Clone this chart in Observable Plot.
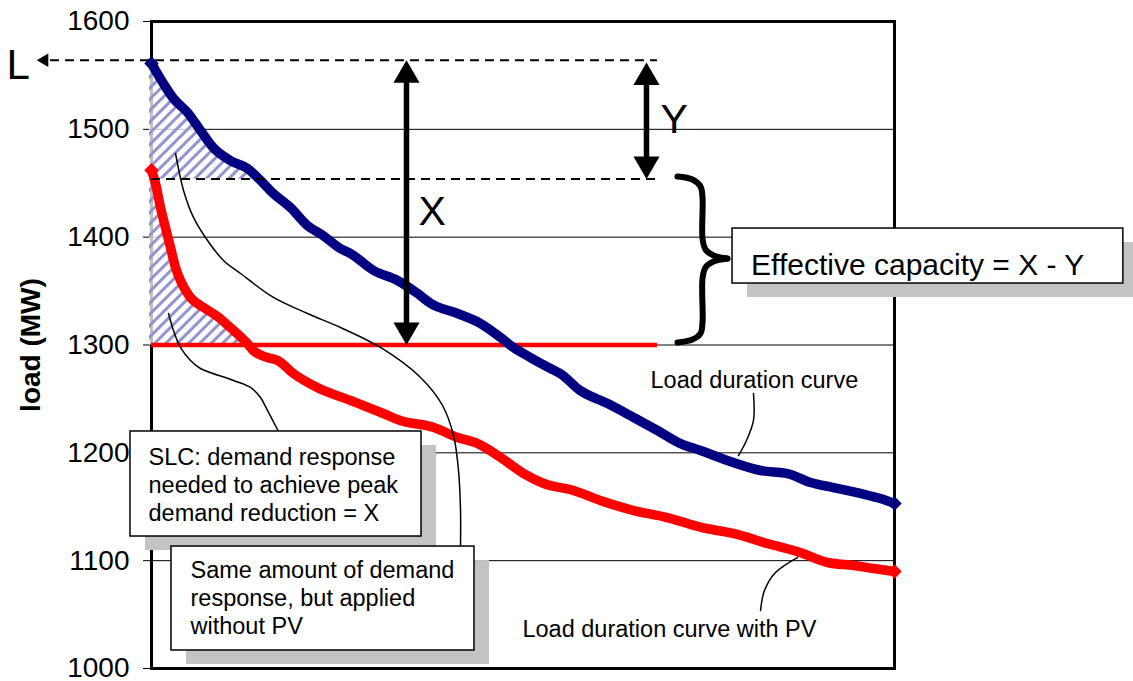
<!DOCTYPE html>
<html>
<head>
<meta charset="utf-8">
<script src="https://cdn.jsdelivr.net/npm/d3@7"></script>
<script src="https://cdn.jsdelivr.net/npm/@observablehq/plot@0.6"></script>
<style>
  html, body { margin: 0; padding: 0; background: #fff; }
  #chart { width: 1133px; height: 681px; overflow: hidden; }
</style>
</head>
<body>
<div id="chart"></div>
<script>
// ---------------- data (x = % of hours, y = load in MW) ----------------
const blueHours = [0,1.6,2.96,4.85,6.6,8.3,10.6,12.9,14.7,16.4,18.7,21.0,23.1,25.4,26.8,29.9,33.1,35.8,37.6,41.2,44.3,47.0,48.7,51.0,53.7,55.0,57.7,61.4,64.9,68.1,71.2,73.9,77.5,82.0,85.6,88.7,91.8,95.4,98.1,100];
const blueLoad  = [1561,1542.5,1528.6,1515.6,1498.9,1483.1,1471.1,1463.7,1452.5,1440.5,1427.5,1410.8,1401.5,1389.5,1384.8,1369.1,1359.8,1347.8,1338.5,1329.2,1319.9,1306.9,1297.7,1288.4,1278.2,1273.6,1257.8,1245.7,1232.8,1220.7,1208.6,1202.2,1192.9,1183.6,1180.8,1172.5,1167.8,1162.3,1157.6,1153];
const pvHours = [0,0.54,1.21,1.88,2.56,3.23,3.9,4.85,5.25,7.0,8.9,10.6,12.9,13.7,15.6,17.0,19.1,22.3,26.8,31.2,33.5,38.0,41.2,43.9,47.0,50.1,52.8,56.8,60.4,64.9,69.4,74.0,78.3,82.9,87.3,91.0,94.5,97.2,100];
const pvLoad  = [1462,1449.8,1427.5,1408.9,1390.4,1371.9,1359.8,1347.8,1344.0,1334.8,1326.4,1316.2,1301.4,1294.9,1288.4,1285.6,1273.6,1260.6,1248.5,1236.5,1230.0,1223.5,1214.2,1208.6,1195.7,1180.8,1171.6,1165.1,1155.8,1146.5,1140.0,1130.8,1125.2,1115.9,1107.6,1098.3,1095.5,1092.7,1089.9];

const peakLevel = 1564;   // L
const pvPeakLevel = 1454; // peak with PV
const targetLevel = 1300; // reduced peak
const yTicks = [1000,1100,1200,1300,1400,1500,1600];
const gridTicks = [1100,1200,1300,1400,1500];
const xDomain = [0, 100];
const yDomain = [1000, 1600];

// ---------------- annotations (data units) ----------------
const markExtent = 68.1;
const lineLeftStart = -13.6;
const arrowXPos = 34.32;
const arrowYPos = 66.62;
const yArrowTop = 1562;

const braceTop = [[70.79,1456.3],[72.81,1453.5],[73.89,1447.0],[74.16,1436.8],[74.16,1398.8],[74.56,1388.6],[75.64,1383.0],[77.52,1380.2]];
const braceBottom = [[77.52,1380.2],[75.64,1377.4],[74.56,1371.9],[74.16,1361.7],[74.16,1320.9],[73.89,1310.7],[72.81,1305.1],[70.79,1302.3]];

const calloutSame = [[3.23,1477.6],[4.31,1443.3],[5.65,1418.3],[7.54,1396.9],[9.69,1378.4],[11.98,1366.3],[16.42,1344.1],[20.99,1329.2],[25.44,1316.2],[30.82,1297.7],[36.21,1269.9],[39.17,1243.9],[40.65,1216.1],[41.32,1183.6],[41.59,1146.5],[41.59,1113.1]];
const calloutSLC = [[2.29,1329.2],[2.96,1313.4],[3.90,1297.7],[5.25,1285.6],[6.59,1278.2],[11.04,1267.1],[13.32,1260.6],[14.67,1251.3],[15.61,1239.3],[17.09,1219.8]];
const calloutLDC = [[81.02,1255.0],[81.02,1230.0],[80.08,1211.4],[79.0,1197.5]];
const calloutPV = [[81.97,1053.8],[82.5,1072.3],[83.98,1089.0],[86.94,1102.9]];

const boxSLC  = {x1:-2.83, x2:36.34, y1:1122.4, y2:1219.8};
const boxSame = {x1:2.69,  x2:43.47, y1:1016.7, y2:1113.1};
const boxEff  = {x1:78.2,  x2:130.8, y1:1357.0, y2:1408.0};

const textSLC = "SLC: demand response\nneeded to achieve peak\ndemand reduction = X";
const textSame = "Same amount of demand\nresponse, but applied\nwithout PV";
const textEff = "Effective capacity = X - Y";

const navy = "#000080";
const red = "#ff0000";

// ---------------- build tables ----------------
const blue = blueHours.map((h, i) => ({hour: h, load: blueLoad[i]}));
const pv = pvHours.map((h, i) => ({hour: h, load: pvLoad[i]}));
const toPts = (arr, id) => arr.map(([x, y]) => ({x, y, id}));
const callouts = [
  ...toPts(calloutSame, "same"), ...toPts(calloutSLC, "slc"),
  ...toPts(calloutLDC, "ldc"), ...toPts(calloutPV, "pv")
];
const brace = [...toPts(braceTop, "top"), ...toPts(braceBottom, "bottom")];
const ends = (arr) => [arr[0], arr[arr.length - 1]];

function boxMarks(b, text, tx, ty, fs, lh) {
  return [
    Plot.rect([b], {x1: "x1", x2: "x2", y1: "y1", y2: "y2", fill: "#c3c3c3", dx: 15, dy: 14}),
    Plot.rect([b], {x1: "x1", x2: "x2", y1: "y1", y2: "y2", fill: "white", stroke: "black", strokeWidth: 1.5}),
    Plot.text([text], {x: tx, y: ty, text: d => d, textAnchor: "start", lineAnchor: "top", fontSize: fs, lineHeight: lh, fill: "black"})
  ];
}

const svg = Plot.plot({
  width: 1133,
  height: 681,
  marginLeft: 151,
  marginRight: 239,
  marginTop: 21,
  marginBottom: 13,
  x: {domain: xDomain, axis: null},
  y: {domain: yDomain, axis: null},
  style: {fontFamily: "'Liberation Sans', Arial, sans-serif", background: "white", overflow: "visible", color: "black"},
  marks: [
    Plot.gridY(gridTicks, {stroke: "black", strokeOpacity: 1, strokeWidth: 1}),
    Plot.frame({stroke: "black", strokeWidth: 3}),
    Plot.axisY({ticks: yTicks, tickSize: 8, tickPadding: 14, fontSize: 28, label: null, tickFormat: d => `${d}`, stroke: "black"}),
    // hatched areas
    Plot.areaY(blue, {x: "hour", y1: pvPeakLevel, y2: d => Math.max(d.load, pvPeakLevel), fill: "url(#hatch)", dx: -2, curve: "monotone-x"}),
    Plot.areaY(pv, {x: "hour", y1: targetLevel, y2: d => Math.max(d.load, targetLevel), fill: "url(#hatch)", dx: -2, curve: "monotone-x"}),
    // target level (red)
    Plot.ruleY([targetLevel], {x1: 0, x2: markExtent, stroke: red, strokeWidth: 4.5}),
    // curves
    Plot.line(pv, {x: "hour", y: "load", stroke: red, strokeWidth: 9.5, strokeLinejoin: "round", curve: "monotone-x"}),
    Plot.dot(ends(pv), {x: "hour", y: "load", symbol: "diamond2", r: 6.5, fill: red}),
    Plot.line(blue, {x: "hour", y: "load", stroke: navy, strokeWidth: 9.5, strokeLinejoin: "round", curve: "monotone-x"}),
    Plot.dot(ends(blue), {x: "hour", y: "load", symbol: "diamond2", r: 6.5, fill: navy}),
    // dashed lines
    Plot.ruleY([peakLevel], {x1: lineLeftStart, x2: markExtent, stroke: "black", strokeWidth: 2, strokeDasharray: "9,6"}),
    Plot.ruleY([pvPeakLevel], {x1: 0, x2: markExtent, stroke: "black", strokeWidth: 2, strokeDasharray: "9,6"}),
    Plot.dot([{x: lineLeftStart, y: peakLevel}], {x: "x", y: "y", symbol: "triangle", r: 5, rotate: -90, fill: "black", dx: -6}),
    // X and Y arrows
    Plot.ruleX([arrowXPos], {y1: targetLevel + 12, y2: peakLevel - 12, stroke: "black", strokeWidth: 5.5}),
    Plot.ruleX([arrowYPos], {y1: pvPeakLevel + 12, y2: yArrowTop - 12, stroke: "black", strokeWidth: 5.5}),
    Plot.dot([{x: arrowXPos, y: peakLevel}, {x: arrowYPos, y: yArrowTop}], {x: "x", y: "y", symbol: "triangle", r: 9.7, fill: "black", dy: 15}),
    Plot.dot([{x: arrowXPos, y: targetLevel}, {x: arrowYPos, y: pvPeakLevel}], {x: "x", y: "y", symbol: "triangle", r: 9.7, rotate: 180, fill: "black", dy: -15}),
    // brace
    Plot.line(brace, {x: "x", y: "y", z: "id", curve: "catmull-rom", stroke: "black", strokeWidth: 6, strokeLinecap: "round"}),
    // callout lines
    Plot.line(callouts, {x: "x", y: "y", z: "id", curve: "catmull-rom", stroke: "black", strokeWidth: 1.5}),
    // boxes
    ...boxMarks(boxSLC, textSLC, -0.40, 1206.7, 23.5, 1.19),
    ...boxMarks(boxSame, textSame, 5.25, 1102.2, 23.5, 1.19),
    Plot.rect([boxEff], {x1: "x1", x2: "x2", y1: "y1", y2: "y2", fill: "#c3c3c3", dx: 15, dy: 14}),
    Plot.rect([boxEff], {x1: "x1", x2: "x2", y1: "y1", y2: "y2", fill: "white", stroke: "black", strokeWidth: 1.5}),
    Plot.text([textEff], {x: 80.7, y: 1374.0, text: d => d, textAnchor: "start", fontSize: 30, fill: "black"}),
    // letters
    Plot.text(["L"], {x: -19.5, y: 1559.3, text: d => d, textAnchor: "start", fontSize: 42, fill: "black"}),
    Plot.text(["X"], {x: 35.94, y: 1423.9, text: d => d, textAnchor: "start", fontSize: 41, fill: "black"}),
    Plot.text(["Y"], {x: 68.5, y: 1509.2, text: d => d, textAnchor: "start", fontSize: 41, fill: "black"}),
    // curve labels
    Plot.text(["Load duration curve"], {x: 67.16, y: 1267.3, text: d => d, textAnchor: "start", fontSize: 23.5, fill: "black"}),
    Plot.text(["Load duration curve with PV"], {x: 49.93, y: 1036.6, text: d => d, textAnchor: "start", fontSize: 23.5, fill: "black"}),
    // axis label
    Plot.text(["load (MW)"], {x: -16.15, y: 1300, text: d => d, rotate: -90, fontSize: 28, fontWeight: "bold", fill: "black"})
  ]
});

// hatch pattern definition
const ns = "http://www.w3.org/2000/svg";
const defs = document.createElementNS(ns, "defs");
const pat = document.createElementNS(ns, "pattern");
pat.setAttribute("id", "hatch");
pat.setAttribute("patternUnits", "userSpaceOnUse");
pat.setAttribute("width", "8");
pat.setAttribute("height", "8");
pat.setAttribute("patternTransform", "rotate(45)");
const bg = document.createElementNS(ns, "rect");
bg.setAttribute("width", "8"); bg.setAttribute("height", "8");
bg.setAttribute("fill", "white"); bg.setAttribute("fill-opacity", "0.75");
const stripe = document.createElementNS(ns, "rect");
stripe.setAttribute("width", "3"); stripe.setAttribute("height", "8");
stripe.setAttribute("fill", "#9393cf");
pat.appendChild(bg); pat.appendChild(stripe);
defs.appendChild(pat);
svg.insertBefore(defs, svg.firstChild);

document.getElementById("chart").appendChild(svg);
</script>
</body>
</html>
